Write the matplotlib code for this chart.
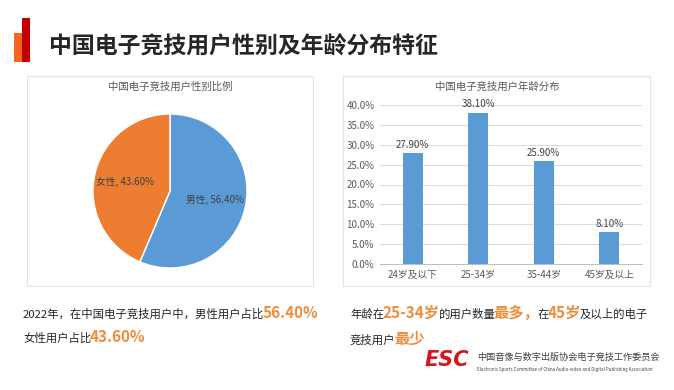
import matplotlib
matplotlib.use("Agg")
import matplotlib.pyplot as plt
from matplotlib.patches import Rectangle
from matplotlib.ticker import PercentFormatter

plt.rcParams['font.family'] = ['Noto Sans CJK SC', 'DejaVu Sans']

W, H = 674, 390

# data
gender_labels = ['男性', '女性']
gender_share = [56.4, 43.6]
age_groups = ['24岁及以下', '25-34岁', '35-44岁', '45岁及以上']
age_share = [0.279, 0.381, 0.259, 0.081]

title = '中国电子竞技用户性别及年龄分布特征'
pie_title = '中国电子竞技用户性别比例'
bar_title = '中国电子竞技用户年龄分布'

BLUE = '#5B9BD5'
ORANGE = '#ED7D31'
HL = '#F08C3C'
DARK = '#262626'
GREY = '#595959'


def fx(x):
    return x / W


def fy(y):
    return 1 - y / H


fig = plt.figure(figsize=(W / 100, H / 100), dpi=100)
fig.patch.set_facecolor('white')

# title icon + title
fig.patches.append(Rectangle((fx(14), fy(62)), 8 / W, 29 / H, transform=fig.transFigure,
                             color='#F26522', lw=0))
fig.patches.append(Rectangle((fx(22), fy(62)), 8 / W, 44 / H, transform=fig.transFigure,
                             color='#C00000', lw=0))
fig.text(fx(49), fy(47), title, fontsize=16.5, color=DARK, weight='bold', va='center')

# panel boxes
for x0, x1 in [(27, 313), (343, 650)]:
    fig.patches.append(Rectangle((fx(x0), fy(286)), (x1 - x0) / W, 210 / H,
                                 transform=fig.transFigure, fill=False,
                                 edgecolor='#E3E3E3', lw=0.8))

fig.text(fx(170), fy(87), pie_title, fontsize=7.5, color=GREY, ha='center', va='center')
fig.text(fx(497), fy(87), bar_title, fontsize=7.5, color=GREY, ha='center', va='center')

# pie
ax1 = fig.add_axes([fx(93), fy(268), 154 / W, 154 / H])
pie_lbls = ['%s, %.2f%%' % (n, v) for n, v in zip(gender_labels, gender_share)]
wedges, texts = ax1.pie(gender_share, labels=pie_lbls, colors=[BLUE, ORANGE],
                        startangle=90, counterclock=False, labeldistance=0.6,
                        wedgeprops=dict(edgecolor='white', linewidth=1.0),
                        textprops=dict(fontsize=7, color='#404040'))
for t in texts:
    t.set_ha('center')
    t.set_va('center')
ax1.set_xlim(-1, 1)
ax1.set_ylim(-1, 1)

# bars
ax2 = fig.add_axes([fx(380), fy(264), 262 / W, 159 / H])
bars = ax2.bar(range(len(age_groups)), age_share, width=0.31, color=BLUE, zorder=3)
for b, v in zip(bars, age_share):
    ax2.text(b.get_x() + b.get_width() / 2, v + 0.008, '%.2f%%' % (v * 100),
             ha='center', va='bottom', fontsize=7, color='#404040')
ax2.set_xlim(-0.5, 3.5)
ax2.set_ylim(0, 0.4)
ax2.set_yticks([i * 0.05 for i in range(9)])
ax2.yaxis.set_major_formatter(PercentFormatter(1.0, decimals=1))
ax2.set_xticks(range(len(age_groups)))
ax2.set_xticklabels(age_groups)
ax2.tick_params(length=0, labelsize=7, colors=GREY, pad=4)
ax2.grid(axis='y', color='#D9D9D9', lw=0.7, zorder=0)
for s in ['top', 'right', 'left']:
    ax2.spines[s].set_visible(False)
ax2.spines['bottom'].set_color('#BFBFBF')
ax2.spines['bottom'].set_linewidth(0.8)

# bottom text with highlights
renderer = fig.canvas.get_renderer()


def rich(x, y, parts):
    for s, hl in parts:
        if hl:
            t = fig.text(fx(x), fy(y), s, fontsize=11, color=HL, weight='bold', va='baseline')
        else:
            t = fig.text(fx(x), fy(y), s, fontsize=8.2, color=DARK, va='baseline')
        bb = t.get_window_extent(renderer)
        x += bb.width - 1.5


rich(23, 318, [('2022年，在中国电子竞技用户中，男性用户占比', False), ('56.40%', True)])
rich(23, 342, [('女性用户占比', False), ('43.60%', True)])
rich(350, 318, [('年龄在', False), ('25-34岁', True), ('的用户数量', False), ('最多，', True),
                ('在', False), ('45岁', True), ('及以上的电子', False)])
rich(350, 344, [('竞技用户', False), ('最少', True)])

# logo
fig.text(fx(425), fy(366.5), 'ESC', fontsize=15, color='#D7141A', weight='bold',
         style='italic', family='DejaVu Sans', va='baseline')
fig.text(fx(477), fy(360), '中国音像与数字出版协会电子竞技工作委员会', fontsize=6.6,
         color='#404040', va='baseline')
fig.text(fx(477), fy(370.5), 'Electronic Sports Committee of China Audio-video and Digital Publishing Association',
         fontsize=3.2, color='#404040', va='baseline')

fig.savefig('out.png', dpi=100)
